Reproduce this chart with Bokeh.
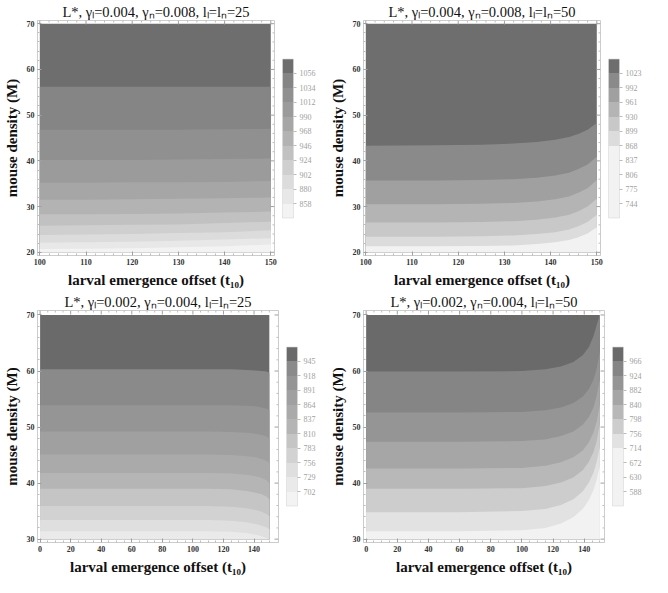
from bokeh.plotting import figure
from bokeh.models import Range1d, ColorBar, LinearColorMapper, FixedTicker
from bokeh.layouts import row, column
from bokeh.embed import file_html
from bokeh.resources import INLINE

SERIF = "Liberation Serif"

XLABEL = "larval emergence offset (t₁₀)"
YLABEL = "mouse density (M)"

# ---------------- panel A : gamma_l=0.004, gamma_n=0.008, l=25
a_title = "L*, γₗ=0.004, γₙ=0.008, lₗ=lₙ=25"
a_levels = [858, 880, 902, 924, 946, 968, 990, 1012, 1034, 1056]
a_palette = ["#f3f3f3", "#e8e8e8", "#dcdcdc", "#cfcfcf", "#c1c1c1", "#b3b3b3",
             "#a6a6a6", "#9b9b9b", "#909090", "#858585", "#6e6e6e"]
a_x = [100, 110, 120, 130, 140, 150]
a_bound_levels = [858, 880, 902, 924, 946, 968, 990, 1012, 1034, 1056]
a_bounds = [
    [20.7, 20.8, 20.9, 21.1, 21.3, 21.7],
    [22.1, 22.2, 22.3, 22.5, 22.8, 23.1],
    [23.8, 23.9, 24.0, 24.2, 24.4, 24.8],
    [25.8, 25.9, 26.0, 26.1, 26.4, 26.7],
    [28.3, 28.3, 28.4, 28.5, 28.7, 28.9],
    [31.5, 31.5, 31.6, 31.7, 31.8, 32.0],
    [35.2, 35.2, 35.3, 35.3, 35.4, 35.6],
    [40.2, 40.2, 40.2, 40.3, 40.4, 40.5],
    [46.8, 46.8, 46.8, 46.8, 46.9, 47.0],
    [56.2, 56.2, 56.2, 56.2, 56.2, 56.2],
]

# ---------------- panel B : gamma_l=0.004, gamma_n=0.008, l=50
b_title = "L*, γₗ=0.004, γₙ=0.008, lₗ=lₙ=50"
b_levels = [744, 775, 806, 837, 868, 899, 930, 961, 992, 1023]
b_palette = ["#f2f2f2", "#f2f2f2", "#f2f2f2", "#f2f2f2", "#f2f2f2", "#dcdcdc",
             "#c8c8c8", "#b4b4b4", "#a0a0a0", "#8a8a8a", "#6e6e6e"]
b_x = [100, 115, 125, 132, 137, 141, 144, 146, 148, 150]
b_bound_levels = [868, 899, 930, 961, 992, 1023]
b_bounds = [
    [21.3, 21.3, 21.4, 21.5, 21.8, 22.2, 22.7, 23.3, 24.1, 25.5],
    [23.4, 23.4, 23.5, 23.7, 24.0, 24.4, 25.0, 25.7, 26.6, 28.2],
    [26.5, 26.5, 26.6, 26.8, 27.1, 27.6, 28.2, 29.0, 30.0, 31.7],
    [30.5, 30.5, 30.6, 30.8, 31.1, 31.6, 32.2, 33.0, 34.0, 35.8],
    [35.7, 35.7, 35.8, 36.0, 36.3, 36.8, 37.4, 38.2, 39.2, 40.9],
    [43.3, 43.4, 43.5, 43.8, 44.1, 44.6, 45.2, 45.9, 46.8, 48.3],
]

# ---------------- panel C : gamma_l=0.002, gamma_n=0.004, l=25
c_title = "L*, γₗ=0.002, γₙ=0.004, lₗ=lₙ=25"
c_levels = [702, 729, 756, 783, 810, 837, 864, 891, 918, 945]
c_palette = ["#f3f3f3", "#eaeaea", "#dfdfdf", "#d2d2d2", "#c5c5c5", "#b5b5b5",
             "#aaaaaa", "#a0a0a0", "#959595", "#8a8a8a", "#6a6a6a"]
c_x = [0, 60, 110, 125, 135, 141, 145, 148, 150]
c_bound_levels = [729, 756, 783, 810, 837, 864, 891, 918, 945]
c_bounds = [
    [31.4, 31.4, 31.4, 31.3, 31.1, 30.8, 30.5, 30.2, 29.8],
    [33.4, 33.4, 33.4, 33.3, 33.0, 32.7, 32.4, 32.1, 31.8],
    [35.9, 35.9, 35.9, 35.8, 35.5, 35.2, 34.9, 34.5, 34.1],
    [39.0, 39.0, 39.0, 38.9, 38.6, 38.3, 38.0, 37.6, 37.1],
    [41.8, 41.8, 41.8, 41.7, 41.5, 41.2, 40.9, 40.5, 40.0],
    [45.1, 45.1, 45.1, 45.0, 44.8, 44.6, 44.3, 44.0, 43.6],
    [49.2, 49.2, 49.2, 49.1, 49.0, 48.8, 48.6, 48.3, 48.0],
    [53.9, 53.9, 53.9, 53.9, 53.8, 53.7, 53.5, 53.3, 53.1],
    [60.3, 60.3, 60.3, 60.3, 60.2, 60.1, 60.0, 59.9, 59.7],
]

# ---------------- panel D : gamma_l=0.002, gamma_n=0.004, l=50
d_title = "L*, γₗ=0.002, γₙ=0.004, lₗ=lₙ=50"
d_levels = [588, 630, 672, 714, 756, 798, 840, 882, 924, 966]
d_palette = ["#f2f2f2", "#f2f2f2", "#f2f2f2", "#f2f2f2", "#e2e2e2", "#cdcdcd",
             "#b8b8b8", "#a6a6a6", "#959595", "#858585", "#6a6a6a"]
d_x = [0, 60, 100, 115, 125, 133, 139, 143, 146, 148, 150]
d_bound_levels = [714, 756, 798, 840, 882, 924, 966]
d_bounds = [
    [31.4, 31.4, 31.6, 32.0, 32.8, 33.9, 35.4, 37.0, 38.8, 40.6, 43.0],
    [34.8, 34.8, 35.0, 35.4, 36.1, 37.1, 38.5, 40.1, 41.9, 43.8, 46.5],
    [39.0, 39.0, 39.1, 39.5, 40.1, 41.0, 42.3, 43.8, 45.6, 47.5, 50.5],
    [42.6, 42.6, 42.7, 43.1, 43.7, 44.6, 45.8, 47.3, 49.1, 51.0, 54.0],
    [47.4, 47.4, 47.5, 47.8, 48.4, 49.2, 50.4, 51.8, 53.6, 55.6, 58.5],
    [52.6, 52.6, 52.7, 53.0, 53.5, 54.3, 55.4, 56.8, 58.5, 60.5, 63.5],
    [59.9, 59.9, 60.0, 60.3, 60.8, 61.6, 62.8, 64.3, 66.3, 68.2, 71.0],
]

# ticks
a_xticks = [100, 110, 120, 130, 140, 150]
a_xminor = [102, 104, 106, 108, 112, 114, 116, 118, 122, 124, 126, 128,
            132, 134, 136, 138, 142, 144, 146, 148]
a_yticks = [20, 30, 40, 50, 60, 70]
a_yminor = [22, 24, 26, 28, 32, 34, 36, 38, 42, 44, 46, 48,
            52, 54, 56, 58, 62, 64, 66, 68]
c_xticks = [0, 20, 40, 60, 80, 100, 120, 140]
c_xminor = [5, 10, 15, 25, 30, 35, 45, 50, 55, 65, 70, 75, 85, 90, 95,
            105, 110, 115, 125, 130, 135, 145, 150]
c_yticks = [30, 40, 50, 60, 70]
c_yminor = [32, 34, 36, 38, 42, 44, 46, 48, 52, 54, 56, 58, 62, 64, 66, 68]

TICK_MAJOR = "#a0a0a0"
TICK_MINOR = "#bdbdbd"


def style_axis(ax, ticks, minor):
    ax.ticker = FixedTicker(ticks=ticks, minor_ticks=minor)
    ax.axis_line_color = "#cccccc"
    ax.major_tick_in = 4
    ax.major_tick_out = 0
    ax.minor_tick_in = 2
    ax.minor_tick_out = 0
    ax.major_tick_line_color = TICK_MAJOR
    ax.minor_tick_line_color = TICK_MINOR
    ax.major_label_text_font = SERIF
    ax.major_label_text_font_style = "bold"
    ax.major_label_text_font_size = "8px"
    ax.major_label_text_color = "#333333"
    ax.major_label_standoff = 3
    ax.axis_label_text_font = SERIF
    ax.axis_label_text_font_style = "bold"
    ax.axis_label_text_font_size = "15px"
    ax.axis_label_text_color = "#111111"
    ax.axis_label_standoff = 4


def make_panel(title, levels, palette, xs, bound_levels, bounds,
               xr, yr, ymin, ymax, xticks, xminor, yticks, yminor, height):
    p = figure(width=326, height=height, output_backend="svg",
               toolbar_location=None, x_range=Range1d(*xr), y_range=Range1d(*yr),
               min_border_left=4, min_border_right=2, min_border_top=2,
               min_border_bottom=2)
    p.title.text = title
    p.title.align = "center"
    p.title.text_font = SERIF
    p.title.text_font_style = "normal"
    p.title.text_font_size = "14.5px"
    p.title.text_color = "#111111"
    p.title.standoff = 2
    p.xgrid.visible = False
    p.ygrid.visible = False
    p.outline_line_color = "#cccccc"

    # layered fills: darkest band first over the full area, then lighter ones
    top_idx = levels.index(bound_levels[-1]) + 1
    p.varea(x=xs, y1=[ymin] * len(xs), y2=[ymax] * len(xs),
            fill_color=palette[top_idx])
    for lev, b in zip(reversed(bound_levels), reversed(bounds)):
        idx = levels.index(lev)
        upper = [min(max(v, ymin), ymax) for v in b]
        p.varea(x=xs, y1=[ymin] * len(xs), y2=upper, fill_color=palette[idx])

    style_axis(p.xaxis[0], xticks, xminor)
    style_axis(p.yaxis[0], yticks, yminor)
    p.xaxis.axis_label = XLABEL
    p.yaxis.axis_label = YLABEL

    # frame ticks on top and right edges (inward)
    p.ray(x=xticks, y=[yr[1]] * len(xticks), length=4, length_units="screen",
          angle=-90, angle_units="deg", line_color=TICK_MAJOR, line_width=1)
    p.ray(x=xminor, y=[yr[1]] * len(xminor), length=2, length_units="screen",
          angle=-90, angle_units="deg", line_color=TICK_MINOR, line_width=1)
    p.ray(x=[xr[1]] * len(yticks), y=yticks, length=4, length_units="screen",
          angle=180, angle_units="deg", line_color=TICK_MAJOR, line_width=1)
    p.ray(x=[xr[1]] * len(yminor), y=yminor, length=2, length_units="screen",
          angle=180, angle_units="deg", line_color=TICK_MINOR, line_width=1)

    step = levels[1] - levels[0]
    mapper = LinearColorMapper(palette=palette, low=levels[0] - step,
                               high=levels[-1] + step)
    cb = ColorBar(color_mapper=mapper, ticker=FixedTicker(ticks=levels),
                  width=11, height=159, location="center", padding=8,
                  bar_line_color="#d8d8d8", bar_line_width=0.6,
                  major_tick_in=0, major_tick_out=3,
                  major_tick_line_color="#bbbbbb",
                  major_label_text_font=SERIF,
                  major_label_text_font_size="8px",
                  major_label_text_color="#a0a0a0",
                  label_standoff=3,
                  border_line_color=None, background_fill_alpha=0)
    p.add_layout(cb, "right")
    return p


pA = make_panel(a_title, a_levels, a_palette, a_x, a_bound_levels, a_bounds,
                (99.5, 150.8), (19.3, 70.7), 20, 70,
                a_xticks, a_xminor, a_yticks, a_yminor, 290)
pB = make_panel(b_title, b_levels, b_palette, b_x, b_bound_levels, b_bounds,
                (99.5, 150.8), (19.3, 70.7), 20, 70,
                a_xticks, a_xminor, a_yticks, a_yminor, 290)
pC = make_panel(c_title, c_levels, c_palette, c_x, c_bound_levels, c_bounds,
                (-1.7, 156), (29.4, 70.8), 30, 70,
                c_xticks, c_xminor, c_yticks, c_yminor, 287)
pD = make_panel(d_title, d_levels, d_palette, d_x, d_bound_levels, d_bounds,
                (-1.7, 153), (29.4, 70.8), 30, 70,
                c_xticks, c_xminor, c_yticks, c_yminor, 287)

layout = column(row(pA, pB), row(pC, pD))
open("out.html", "w").write(file_html(layout, INLINE))
